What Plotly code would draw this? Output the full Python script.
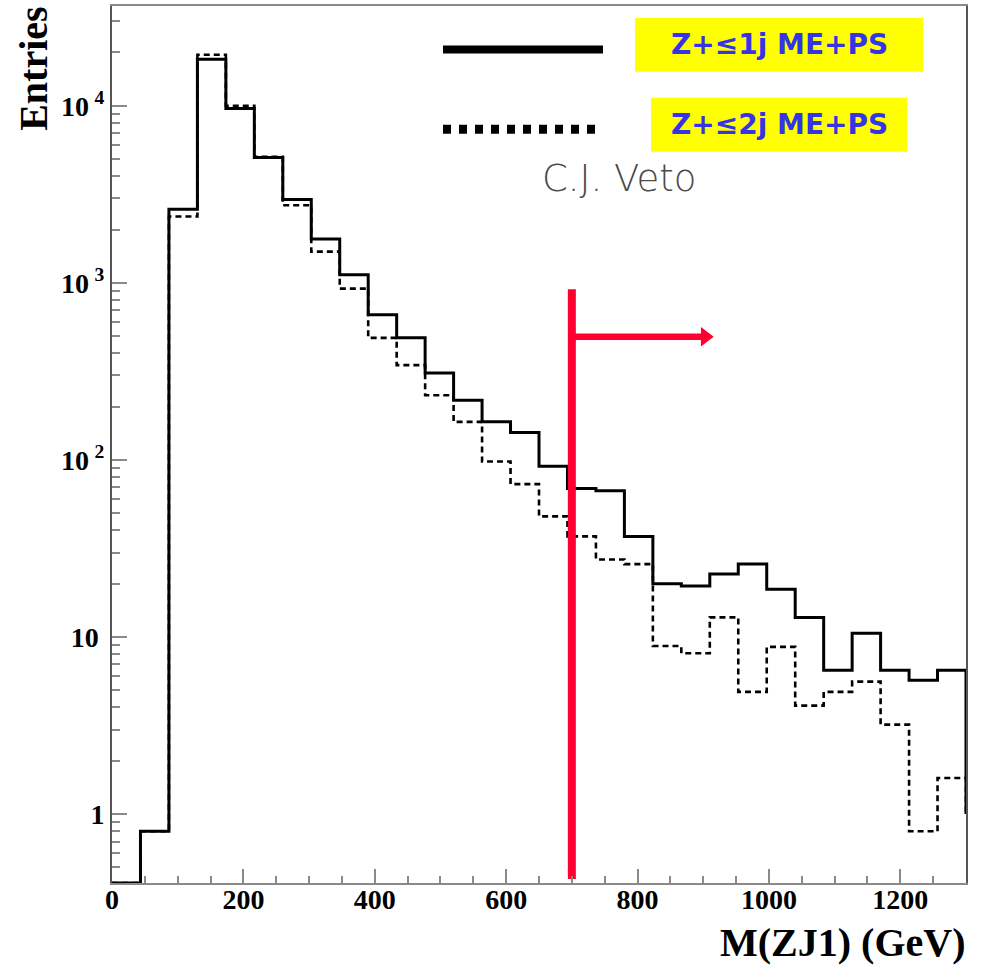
import numpy as np
import plotly.graph_objects as go

# ---------------- data ----------------
x_min, x_max, n_bins = 0, 1300, 30
bin_edges = np.linspace(x_min, x_max, n_bins + 1)

# Z + <=1 jet ME+PS (solid)
solid_entries = [0, 0.8, 2600, 18300, 9650, 5100, 2950, 1770, 1110, 660,
                 490, 310, 217, 164, 143, 92, 69, 67, 37, 20,
                 19.4, 22.7, 25.8, 18.6, 12.9, 6.5, 10.5, 6.5, 5.7, 6.5]
# Z + <=2 jet ME+PS (dashed)
dashed_entries = [0, 0.8, 2370, 19400, 10000, 5140, 2740, 1500, 927, 489,
                  343, 232, 164, 98, 73, 48, 37, 27.4, 25.8, 8.9,
                  8.1, 12.9, 4.9, 8.8, 4.1, 4.9, 5.6, 3.2, 0.8, 1.6]
closing_level = 1.0

veto_cut = 700
veto_line_top = 919
veto_line_bottom = 0.43
arrow_level = 496
arrow_head_x = 903

y_tick_vals = [1, 10, 100, 1000, 10000]
y_tick_text = ["1", "10\u2009", "10\u2009<sup>2</sup>", "10\u2009<sup>3</sup>", "10\u2009<sup>4</sup>"]
x_tick_vals = [0, 200, 400, 600, 800, 1000, 1200]

legend_labels = ["Z+\u22641j ME+PS", "Z+\u22642j ME+PS"]
veto_label = "C.J. Veto"
x_title = "M(ZJ1) (GeV)"
y_title = "Entries"

# ---------------- layout geometry ----------------
W, H = 982, 968
L, R, T, B = 112, 16, 4, 85
y_log_range = [-0.389, 4.563]
floor_val = 10 ** y_log_range[0]


def px2x(px):
    return (px - L) / (W - L - R)


def py2y(py):
    return (H - B - py) / (H - T - B)


def step_xy(vals):
    ys = [v if v > 0 else floor_val for v in vals]
    xs = list(bin_edges) + [bin_edges[-1]]
    ys = ys + [ys[-1], closing_level]
    return xs, ys


fig = go.Figure()

sx, sy = step_xy(solid_entries)
dx, dy = step_xy(dashed_entries)

fig.add_trace(go.Scatter(x=dx, y=dy, mode="lines", line_shape="hv",
                         line=dict(color="black", width=2.6, dash="6px,4px"),
                         name=legend_labels[1], showlegend=False, hoverinfo="skip"))
fig.add_trace(go.Scatter(x=sx, y=sy, mode="lines", line_shape="hv",
                         line=dict(color="black", width=3),
                         name=legend_labels[0], showlegend=False, hoverinfo="skip"))

red = "#FF0030"
fig.add_trace(go.Scatter(x=[veto_cut, veto_cut], y=[veto_line_bottom, veto_line_top],
                         mode="lines", line=dict(color=red, width=8),
                         showlegend=False, hoverinfo="skip"))
fig.add_trace(go.Scatter(x=[veto_cut, arrow_head_x], y=[arrow_level, arrow_level],
                         mode="lines", line=dict(color=red, width=6.5),
                         showlegend=False, hoverinfo="skip"))
fig.add_trace(go.Scatter(x=[arrow_head_x], y=[arrow_level], mode="markers",
                         marker=dict(symbol="triangle-right", size=17, color=red,
                                     line=dict(width=0)),
                         showlegend=False, hoverinfo="skip"))

tick_font = dict(family="Liberation Serif, Times New Roman, serif", size=28,
                 color="black", weight="bold")
axis_col = "#8a8a8a"

fig.update_xaxes(range=[x_min, x_max], tickmode="array", tickvals=x_tick_vals,
                 ticks="inside", ticklen=14, tickwidth=1.5, tickcolor=axis_col,
                 ticklabelstandoff=-10,
                 minor=dict(ticks="inside", ticklen=7, tickwidth=1.5, tickcolor=axis_col,
                            dtick=50, tick0=0),
                 showline=True, linecolor=axis_col, linewidth=2, mirror=True,
                 showgrid=False, zeroline=False, tickfont=tick_font)

minor_y = [m * 10 ** e for e in range(-1, 5) for m in range(2, 10)]
fig.update_yaxes(type="log", range=y_log_range, tickmode="array",
                 tickvals=y_tick_vals, ticktext=y_tick_text,
                 ticks="inside", ticklen=15, tickwidth=1.5, tickcolor=axis_col,
                 minor=dict(ticks="inside", ticklen=8, tickwidth=1.5, tickcolor=axis_col,
                            tickmode="array", tickvals=minor_y),
                 showline=True, linecolor="#555555", linewidth=2, mirror=True,
                 showgrid=False, zeroline=False, tickfont=tick_font)

shapes = []
annotations = []

# legend line samples
shapes.append(dict(type="line", xref="paper", yref="paper",
                   x0=px2x(443), x1=px2x(603), y0=py2y(47.5), y1=py2y(47.5),
                   line=dict(color="black", width=8)))
shapes.append(dict(type="line", xref="paper", yref="paper",
                   x0=px2x(443), x1=px2x(603), y0=py2y(127.5), y1=py2y(127.5),
                   line=dict(color="black", width=9, dash="8px,8px")))
# yellow boxes
for (x0, x1, y0, y1) in [(635, 923, 16, 70), (651, 907, 96, 150)]:
    shapes.append(dict(type="rect", xref="paper", yref="paper",
                       x0=px2x(x0), x1=px2x(x1), y0=py2y(y1), y1=py2y(y0),
                       fillcolor="#FFFF00", line=dict(width=0), layer="above"))

leg_font = dict(family="DejaVu Sans, Verdana, sans-serif", size=28,
                color="#3535E6", weight="bold")
for lab, cy in zip(legend_labels, [43, 123]):
    annotations.append(dict(text=lab, xref="paper", yref="paper",
                            x=px2x(779), y=py2y(cy), xanchor="center", yanchor="middle",
                            showarrow=False, font=leg_font))

annotations.append(dict(text=veto_label, xref="paper", yref="paper",
                        x=px2x(619), y=py2y(177), xanchor="center", yanchor="middle",
                        showarrow=False,
                        font=dict(family="DejaVu Sans, sans-serif", size=37,
                                  color="#4a4a4a", weight=200)))

title_font = dict(family="Liberation Serif, Times New Roman, serif",
                  color="black", weight="bold")
annotations.append(dict(text=y_title, xref="paper", yref="paper",
                        x=px2x(34), y=py2y(67), xanchor="center", yanchor="middle",
                        textangle=-90, showarrow=False,
                        font=dict(size=40, **title_font)))
annotations.append(dict(text=x_title, xref="paper", yref="paper",
                        x=px2x(967), y=py2y(943), xanchor="right", yanchor="middle",
                        showarrow=False, font=dict(size=40, **title_font)))

fig.update_layout(width=W, height=H, margin=dict(l=L, r=R, t=T, b=B),
                  paper_bgcolor="white", plot_bgcolor="white",
                  shapes=shapes, annotations=annotations, showlegend=False)

fig.write_html("out.html")
